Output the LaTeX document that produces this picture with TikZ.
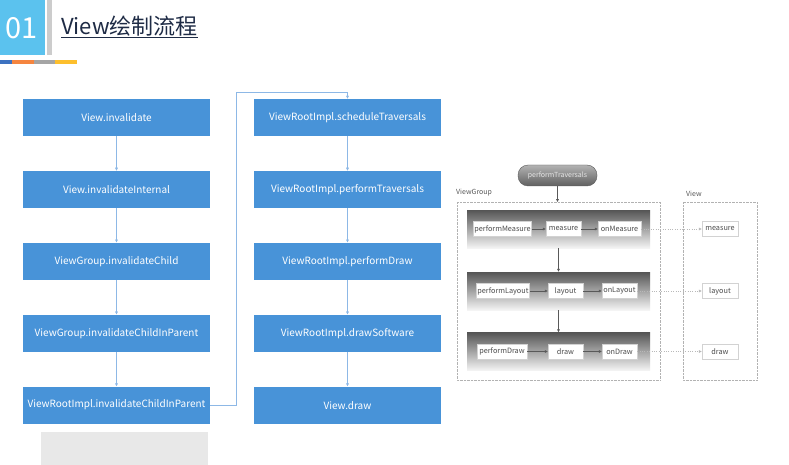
\documentclass[tikz,border=0pt]{standalone}
\usepackage{fontspec}
\setmainfont{Noto Sans CJK SC}
\usetikzlibrary{positioning,arrows.meta}
\definecolor{boxblue}{HTML}{4893D8}
\definecolor{tagblue}{HTML}{5BC2EE}
\definecolor{titlenavy}{HTML}{1E2B45}
\definecolor{linkblue}{HTML}{8DB8E6}
\definecolor{bandtop}{HTML}{555555}
\definecolor{bandbot}{HTML}{F4F4F4}
\definecolor{barblue}{HTML}{3D72C0}
\definecolor{barorange}{HTML}{F5853F}
\definecolor{bargray}{HTML}{A5A5A5}
\definecolor{baryellow}{HTML}{FDBF2D}
\tikzstyle{B}+=[fill=boxblue,text=white,minimum width=187pt,minimum height=37pt,inner sep=0pt,font=\fontsize{10}{12}\selectfont]
\tikzstyle{F}+=[draw=linkblue,-{Latex[length=3pt,width=3pt]}]
\tikzstyle{BAND}+=[top color=bandtop,bottom color=bandbot,minimum width=183pt,minimum height=38pt,inner sep=0pt]
\tikzstyle{S}+=[draw=gray!35,fill=white,text=black!70,font=\fontsize{7.3}{8}\selectfont,minimum height=15pt,inner sep=1pt]
\tikzstyle{D}+=[draw=gray!60,densely dotted,fill=white]
\tikzstyle{G}+=[draw=black!65,-{Latex[length=3pt,width=3pt]}]
\tikzstyle{GD}+=[draw=gray!55,dotted,-{Latex[length=3pt,width=3pt]}]

\begin{document}
\begin{tikzpicture}[x=1pt,y=-1pt]
    \useasboundingbox[fill=white] (0,0) rectangle (789,465);

    % header
    \begin{scope}
        \fill[tagblue] (0,0) rectangle (45,55);
        \fill[gray!40] (47,0) rectangle (52,55);
        \node[text=white,font=\fontsize{29}{29}\selectfont] (num) at (21.5,28) {01};
        \node[anchor=west,inner sep=0pt,text=titlenavy,font=\fontsize{22}{24}\selectfont] (title) at (61,27) {\underline{View绘制流程}};
        \fill[barblue] (0,60) rectangle (12,64);
        \fill[barorange] (12,60) rectangle (34,64);
        \fill[bargray] (34,60) rectangle (55,64);
        \fill[baryellow] (55,60) rectangle (77,64);
    \end{scope}

    % call chain
    \begin{scope}
        \node[B] (inv) at (116.5,117.5) {View.invalidate};
        \node[B,below=34.5pt of inv] (invint) {View.invalidateInternal};
        \node[B,below=34.5pt of invint] (child) {ViewGroup.invalidateChild};
        \node[B,below=34.5pt of child] (childp) {ViewGroup.invalidateChildInParent};
        \node[B,below=34.5pt of childp] (rootp) {ViewRootImpl.invalidateChildInParent};

        \node[B] (sched) at (347.5,117.5) {ViewRootImpl.scheduleTraversals};
        \node[B,below=34.5pt of sched] (ptrav) {ViewRootImpl.performTraversals};
        \node[B,below=34.5pt of ptrav] (pdraw) {ViewRootImpl.performDraw};
        \node[B,below=34.5pt of pdraw] (soft) {ViewRootImpl.drawSoftware};
        \node[B,below=34.5pt of soft] (vdraw) {View.draw};

        \draw[F] (inv) -- (invint);
        \draw[F] (invint) -- (child);
        \draw[F] (child) -- (childp);
        \draw[F] (childp) -- (rootp);
        \coordinate (turn) at ([yshift=7pt]sched.north);
        \draw[F] (rootp.east) -- ++(26,0) |- (turn) -- (sched.north);
        \draw[F] (sched) -- (ptrav);
        \draw[F] (ptrav) -- (pdraw);
        \draw[F] (pdraw) -- (soft);
        \draw[F] (soft) -- (vdraw);

        \fill[gray!18] (41,432) rectangle (208,465);
    \end{scope}

    % traversal stages
    \begin{scope}
        \draw[D] (457,202) rectangle (660,380);
        \draw[D] (683,202) rectangle (757,380);
        \node[anchor=west,inner sep=0pt,text=black!65,font=\fontsize{7}{8}\selectfont] (vglabel) at (456,193) {ViewGroup};
        \node[anchor=west,inner sep=0pt,text=black!65,font=\fontsize{7}{8}\selectfont] (vlabel) at (686,194) {View};

        \node[rounded corners=10pt,top color=gray!60,bottom color=gray!75!black,draw=gray!70!black,text=white!80!gray,font=\fontsize{7}{8}\selectfont,minimum width=79pt,minimum height=21pt] (trav) at (557.5,175.5) {performTraversals};

        \node[BAND] (mband) at (558.5,229) {};
        \node[BAND] (lband) at (558.5,291) {};
        \node[BAND] (dband) at (558.5,351.5) {};

        \node[S,minimum width=57pt] (pm) at (502.5,229) {performMeasure};
        \node[S,minimum width=35pt] (m) at (563.5,229) {measure};
        \node[S,minimum width=43pt] (om) at (619.5,229) {onMeasure};
        \node[S,minimum width=52pt] (pl) at (503,291) {performLayout};
        \node[S,minimum width=35pt] (l) at (565.5,291) {layout};
        \node[S,minimum width=35pt] (ol) at (619.5,291) {onLayout};
        \node[S,minimum width=50pt] (pd) at (502,351.5) {performDraw};
        \node[S,minimum width=35pt] (d) at (565.5,351.5) {draw};
        \node[S,minimum width=35pt] (od) at (619.5,351.5) {onDraw};

        \node[S,minimum width=36pt] (vm) at (720,229) {measure};
        \node[S,minimum width=36pt] (vl) at (720,291) {layout};
        \node[S,minimum width=36pt] (vd) at (720,351.5) {draw};

        \draw[G] (trav) -- (557.5,202);
        \draw[G] (mband) -- (lband);
        \draw[G] (lband) -- (dband);
        \draw[G] (pm) -- (m);
        \draw[G] (m) -- (om);
        \draw[G] (pl) -- (l);
        \draw[G] (l) -- (ol);
        \draw[G] (pd) -- (d);
        \draw[G] (d) -- (od);
        \draw[GD] (om) -- (vm);
        \draw[GD] (ol) -- (vl);
        \draw[GD] (od) -- (vd);
    \end{scope}
\end{tikzpicture}
\end{document}
